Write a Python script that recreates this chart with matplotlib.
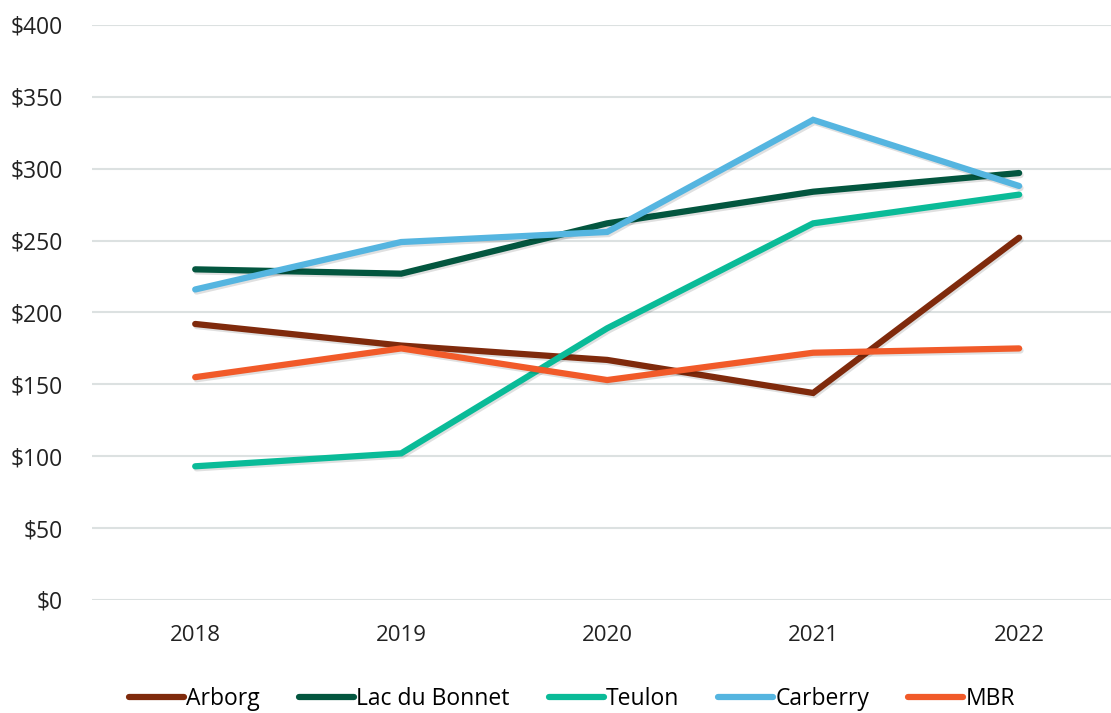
import matplotlib.pyplot as plt
import matplotlib.patheffects as pe

# data
years = ['2018', '2019', '2020', '2021', '2022']
arborg = [192, 177, 167, 144, 252]
lac_du_bonnet = [230, 227, 262, 284, 297]
teulon = [93, 102, 189, 262, 282]
carberry = [216, 249, 256, 334, 288]
mbr = [155, 175, 153, 172, 175]

series = [
    ('Arborg', arborg, '#7F2A0C'),
    ('Lac du Bonnet', lac_du_bonnet, '#03563F'),
    ('Teulon', teulon, '#0ABB98'),
    ('Carberry', carberry, '#55B5E0'),
    ('MBR', mbr, '#F15A29'),
]

plt.rcParams['font.family'] = ['Open Sans', 'DejaVu Sans']

fig = plt.figure(figsize=(11.11, 7.13), dpi=100)
ax = fig.add_axes([0.083, 0.1585, 0.927, 0.8065])

x = list(range(len(years)))
shadow = [pe.SimpleLineShadow(offset=(1, -1.5), shadow_color='black', alpha=0.12), pe.Normal()]
for name, vals, col in series:
    ax.plot(x, vals, color=col, lw=4.5, solid_capstyle='round', solid_joinstyle='miter',
            label=name, path_effects=shadow, zorder=3)

ax.set_ylim(0, 400)
ax.set_xlim(-0.5, 4.5)
ax.set_yticks(range(0, 401, 50))
ax.set_yticklabels([f'${v}' for v in range(0, 401, 50)])
ax.set_xticks(x)
ax.set_xticklabels(years)
ax.tick_params(axis='y', length=0, pad=21, labelsize=16.5, labelcolor='#222222')
ax.tick_params(axis='x', length=0, pad=18, labelsize=16, labelcolor='#222222')
ax.grid(True, axis='y', color='#DCE1E1', lw=1.5, zorder=0)
for s in ax.spines.values():
    s.set_visible(False)

leg = ax.legend(loc='center', bbox_to_anchor=(0.466, -0.172), ncol=5, frameon=False,
                fontsize=16.5, handlelength=2.4, handletextpad=0.1, columnspacing=1.7)
for line in leg.get_lines():
    line.set_linewidth(4.5)
    line.set_solid_capstyle('round')
    line.set_path_effects([])

plt.savefig('out.png', dpi=100)
